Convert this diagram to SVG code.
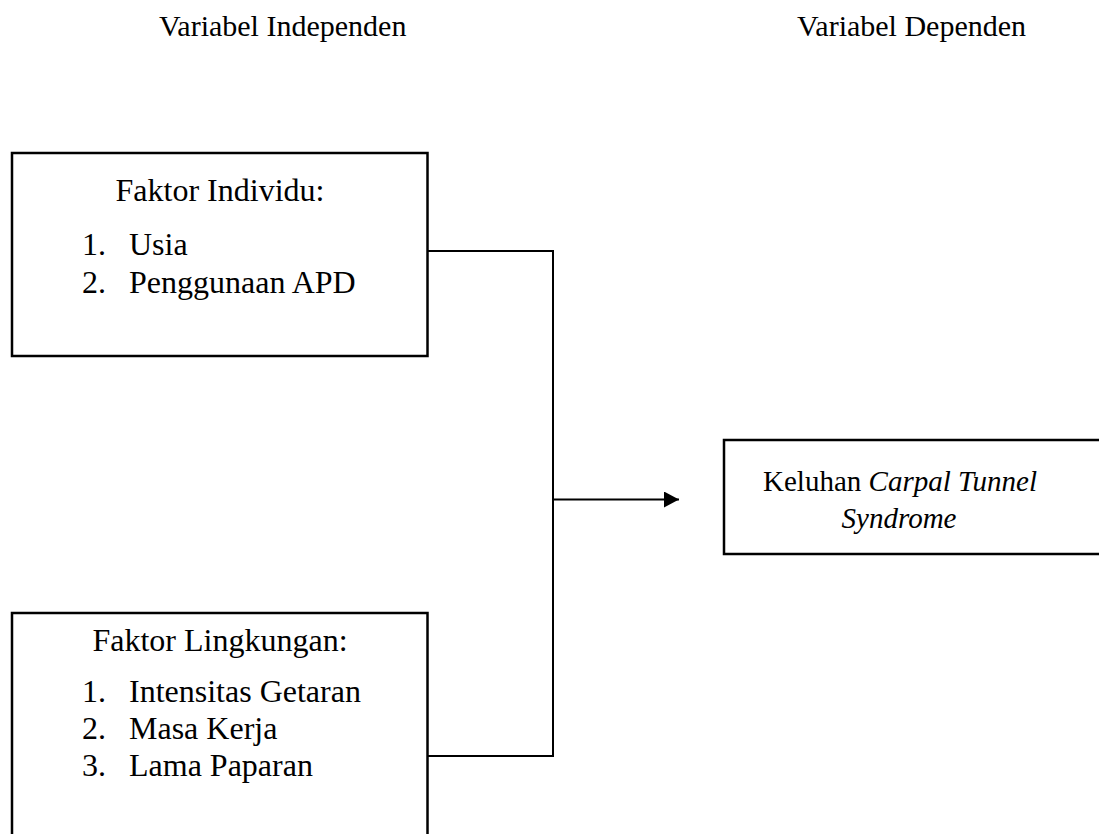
<svg xmlns="http://www.w3.org/2000/svg" width="1099" height="834" viewBox="0 0 1099 834">
<style>
text{font-family:'Liberation Serif','Times New Roman',serif;fill:#000;font-size:32px}
.hd{font-size:30px}
.sm{font-size:29px}
.box{fill:#fff;stroke:#000;stroke-width:2.5}
.ln{fill:none;stroke:#000;stroke-width:2}
.it{font-style:italic}
</style>
<defs>
<marker id="ah" markerWidth="15" markerHeight="16" refX="15" refY="8" orient="auto" markerUnits="userSpaceOnUse">
<path d="M0,0 L15,8 L0,16 Z" fill="#000"/>
</marker>
</defs>
<rect width="1099" height="834" fill="#fff"/>
<g id="headers">
<text class="hd" x="159" y="36">Variabel Independen</text>
<text class="hd" x="797" y="36">Variabel Dependen</text>
</g>
<g id="connectors">
<polyline class="ln" points="428,251 553,251 553,756 428,756"/>
<line class="ln" x1="553" y1="499.5" x2="679" y2="499.5" marker-end="url(#ah)"/>
</g>
<g id="node-individu">
<rect class="box" x="12" y="153" width="415.5" height="203"/>
<text x="220" y="201" text-anchor="middle">Faktor Individu:</text>
<text x="82" y="255">1.</text><text x="129" y="255">Usia</text>
<text x="82" y="293">2.</text><text x="129" y="293">Penggunaan APD</text>
</g>
<g id="node-lingkungan">
<rect class="box" x="12" y="613" width="415.5" height="240"/>
<text x="220" y="651" text-anchor="middle">Faktor Lingkungan:</text>
<text x="82" y="702">1.</text><text x="129" y="702">Intensitas Getaran</text>
<text x="82" y="739">2.</text><text x="129" y="739">Masa Kerja</text>
<text x="82" y="776">3.</text><text x="129" y="776">Lama Paparan</text>
</g>
<g id="node-cts">
<rect class="box" x="724" y="440" width="390" height="114"/>
<text class="sm" x="900" y="491" text-anchor="middle">Keluhan <tspan class="it">Carpal Tunnel</tspan></text>
<text class="sm it" x="899" y="528" text-anchor="middle">Syndrome</text>
</g>
</svg>
